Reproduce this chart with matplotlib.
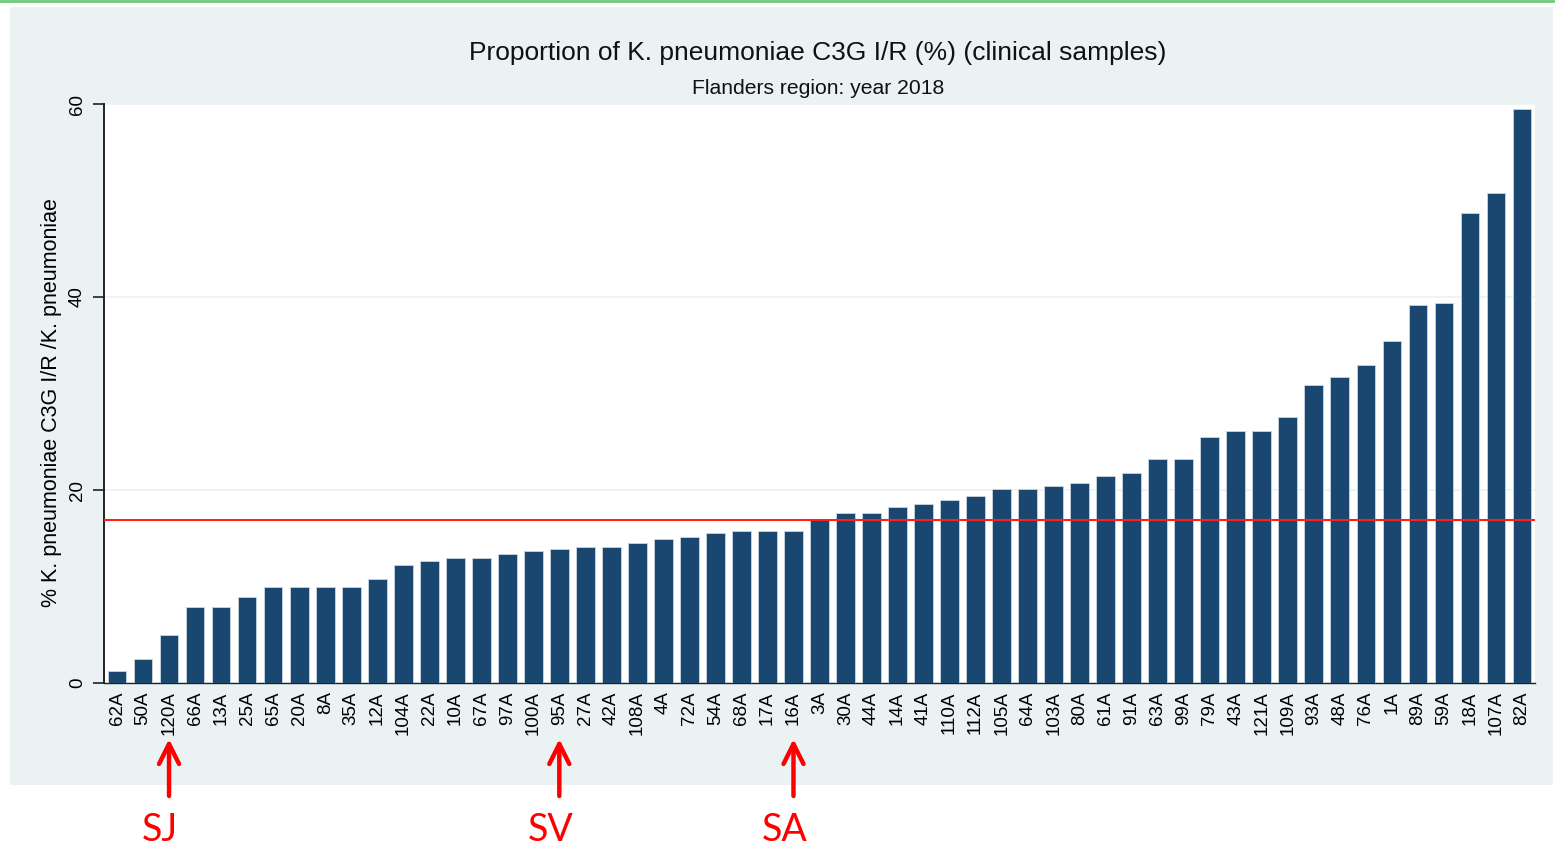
import numpy as np
import matplotlib
matplotlib.use("Agg")
import matplotlib.pyplot as plt
from matplotlib.patches import Rectangle

plt.rcParams["font.family"] = ["Liberation Sans", "DejaVu Sans"]

# hospital codes, sorted by value
labels = ["62A", "50A", "120A", "66A", "13A", "25A", "65A", "20A", "8A", "35A",
          "12A", "104A", "22A", "10A", "67A", "97A", "100A", "95A", "27A", "42A",
          "108A", "4A", "72A", "54A", "68A", "17A", "16A", "3A", "30A", "44A",
          "14A", "41A", "110A", "112A", "105A", "64A", "103A", "80A", "61A", "91A",
          "63A", "99A", "79A", "43A", "121A", "109A", "93A", "48A", "76A", "1A",
          "89A", "59A", "18A", "107A", "82A"]
values = [1.2, 2.5, 5.0, 7.9, 7.9, 8.9, 9.9, 9.9, 9.9, 9.9,
          10.8, 12.2, 12.6, 13.0, 13.0, 13.4, 13.7, 13.9, 14.1, 14.1,
          14.5, 14.9, 15.1, 15.5, 15.7, 15.7, 15.7, 17.0, 17.6, 17.6,
          18.2, 18.6, 19.0, 19.4, 20.1, 20.1, 20.4, 20.7, 21.5, 21.8,
          23.2, 23.2, 25.5, 26.1, 26.1, 27.6, 30.9, 31.7, 33.0, 35.4,
          39.2, 39.4, 48.7, 50.8, 59.5]
region_mean = 16.9
yticks = [0, 20, 40, 60]

# highlighted hospitals
marks = {"120A": "SJ", "95A": "SV", "16A": "SA"}

panel_col = "#eaf2f3"
bar_col = "#1a476f"

W, H = 1555, 847
fig = plt.figure(figsize=(W / 100, H / 100), dpi=100, facecolor="white")

# Stata style outer panel, behind everything
fig.patches.append(Rectangle((10 / W, 1 - 785 / H), 1543 / W, 778 / H,
                             transform=fig.transFigure, facecolor=panel_col,
                             edgecolor="none", zorder=-5))
fig.add_artist(plt.Line2D([0, 1], [1 - 1 / H, 1 - 1 / H], color="#6acb78",
                          lw=2, transform=fig.transFigure, zorder=-4))

ax = fig.add_axes([104 / W, 1 - 683 / H, (1535 - 104) / W, (683 - 104) / H])
ax.set_facecolor("white")

x = np.arange(len(labels))
ax.bar(x, values, width=0.72, color=bar_col, edgecolor="#c9d6e0", linewidth=0.6, zorder=3)
ax.axhline(region_mean, color="#ff2020", lw=1.5, zorder=4)

ax.set_xlim(-0.5, len(labels) - 0.5)
ax.set_ylim(0, 60)
ax.set_yticks(yticks)
ax.set_yticklabels([str(t) for t in yticks], rotation=90, va="center", fontsize=13.5)
ax.set_xticks(x)
ax.set_xticklabels(labels, rotation=90, fontsize=13.5)
ax.tick_params(axis="x", length=0, pad=6)
ax.tick_params(axis="y", length=8, width=1.2, color="#222222", pad=5)
ax.grid(axis="y", color="#eaf2f3", lw=1.2, zorder=0)

for s in ["top", "right"]:
    ax.spines[s].set_visible(False)
ax.spines["left"].set_color("#222222")
ax.spines["left"].set_linewidth(1.4)
ax.spines["bottom"].set_color("#222222")
ax.spines["bottom"].set_linewidth(1.0)

ax.set_ylabel("% K. pneumoniae C3G I/R /K. pneumoniae", fontsize=15.5)
ax.yaxis.set_label_coords(-0.0294, 0.484)

fig.text(818 / W, 1 - 53 / H, "Proportion of K. pneumoniae C3G I/R (%) (clinical samples)",
         ha="center", va="center", fontsize=19, color="#111111")
fig.text(818 / W, 1 - 88 / H, "Flanders region: year 2018",
         ha="center", va="center", fontsize=15.2, color="#111111")

# red arrows under the highlighted hospitals
for code, tag in marks.items():
    i = labels.index(code)
    ax.annotate("", xy=(i, 1 - 739 / H), xytext=(i, 1 - 796 / H),
                xycoords=("data", "figure fraction"),
                textcoords=("data", "figure fraction"),
                arrowprops=dict(arrowstyle="->", color="red", lw=3.2,
                                mutation_scale=36, shrinkA=0, shrinkB=0),
                annotation_clip=False)
    ax.annotate(tag, xy=(i, 1 - 830 / H), xycoords=("data", "figure fraction"),
                xytext=(-9, 0), textcoords="offset pixels",
                ha="center", va="center", fontsize=27, color="red",
                family=["Lato", "DejaVu Sans"], annotation_clip=False)

fig.savefig("out.png", dpi=100, facecolor="white")
